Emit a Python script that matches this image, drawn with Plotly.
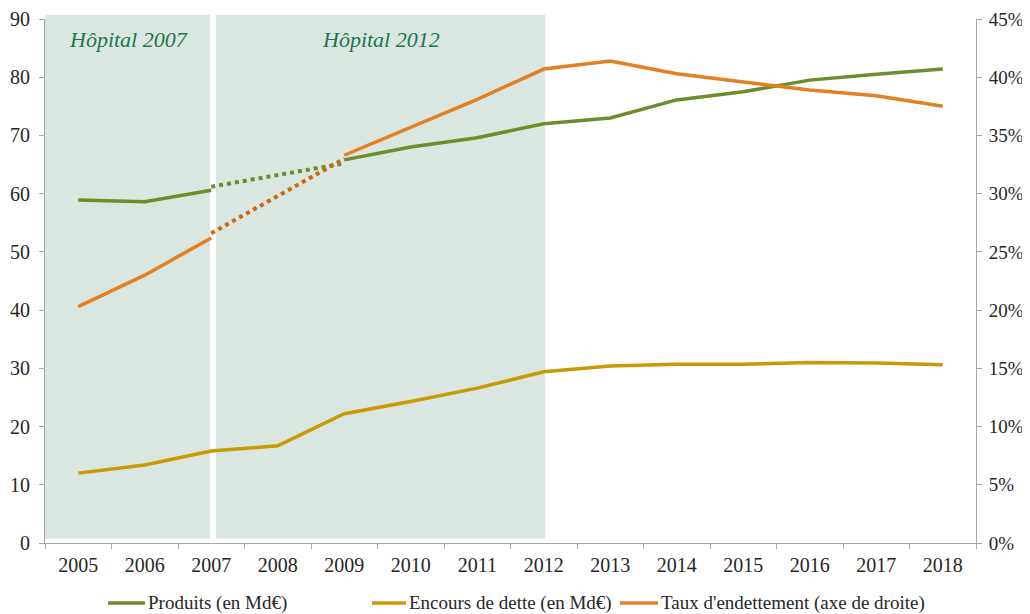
import plotly.graph_objects as go

# Data
years = ['2005', '2006', '2007', '2008', '2009', '2010', '2011',
         '2012', '2013', '2014', '2015', '2016', '2017', '2018']

produits = [58.9, 58.6, 60.6, None, 65.8, 68.0, 69.6,
            72.0, 73.0, 76.1, 77.5, 79.5, 80.5, 81.4]
produits_gap = [None, None, 61.2, 63.2, 65.2, None, None,
                None, None, None, None, None, None, None]

encours = [12.0, 13.4, 15.8, 16.7, 22.2, 24.3, 26.6,
           29.4, 30.4, 30.7, 30.7, 31.0, 30.9, 30.6]

taux = [0.203, 0.230, 0.262, None, 0.333, 0.357, 0.381,
        0.407, 0.414, 0.403, 0.396, 0.389, 0.384, 0.375]
taux_gap = [None, None, 0.266, 0.298, 0.330, None, None,
            None, None, None, None, None, None, None]

periods = ['Hôpital 2007', 'Hôpital 2012']
series_names = ['Produits (en Md€)', 'Encours de dette (en Md€)',
                "Taux d'endettement (axe de droite)"]

GREEN = '#6F8C2C'
GOLD = '#C99A06'
ORANGE = '#E47F22'
ORANGE_DOT = '#D0650F'
FONT = 'Liberation Serif'
colors = [GREEN, GOLD, ORANGE]

fig = go.Figure()

fig.add_trace(go.Scatter(x=years, y=produits, name=series_names[0], mode='lines',
                         line=dict(color=GREEN, width=3.5)))
fig.add_trace(go.Scatter(x=years, y=encours, name=series_names[1], mode='lines',
                         line=dict(color=GOLD, width=3.5)))
fig.add_trace(go.Scatter(x=years, y=taux, name=series_names[2], mode='lines',
                         line=dict(color=ORANGE, width=3.5), yaxis='y2'))
fig.add_trace(go.Scatter(x=years, y=produits_gap, mode='lines', showlegend=False,
                         line=dict(color=GREEN, width=4, dash='dot')))
fig.add_trace(go.Scatter(x=years, y=taux_gap, mode='lines', showlegend=False,
                         line=dict(color=ORANGE_DOT, width=4, dash='dot'), yaxis='y2'))

# shaded periods
fig.add_shape(type='rect', xref='x', yref='paper', x0=-0.5, x1=1.98, y0=0.008, y1=1.008,
              fillcolor='#D9E7E0', line_width=0, layer='below')
fig.add_shape(type='rect', xref='x', yref='paper', x0=2.07, x1=7.02, y0=0.008, y1=1.008,
              fillcolor='#D9E7E0', line_width=0, layer='below')
fig.add_annotation(x=0.75, y=0.96, xref='x', yref='paper', text='<i>' + periods[0] + '</i>',
                   yanchor='middle', showarrow=False,
                   font=dict(family=FONT, size=22, color='#1E7552'))
fig.add_annotation(x=4.55, y=0.96, xref='x', yref='paper', text='<i>' + periods[1] + '</i>',
                   yanchor='middle', showarrow=False,
                   font=dict(family=FONT, size=22, color='#1E7552'))

# legend drawn by hand to reproduce the wide spacing of the original
legend_y = -0.1145
legend_lines = [(0.0677, 0.1074), (0.3512, 0.3878), (0.6176, 0.6584)]
for (x0, x1), name, col in zip(legend_lines, series_names, colors):
    fig.add_shape(type='line', xref='paper', yref='paper', x0=x0, x1=x1,
                  y0=legend_y, y1=legend_y, line=dict(color=col, width=3.5))
    fig.add_annotation(x=x1 + 0.001, y=legend_y, xref='paper', yref='paper', text=name,
                       xanchor='left', yanchor='middle', showarrow=False,
                       font=dict(family=FONT, size=19, color='#262626'))

axis_common = dict(showgrid=False, zeroline=False, showline=True, linecolor='#A6A6A6',
                   linewidth=1, ticks='outside', ticklen=5, tickcolor='#A6A6A6',
                   automargin=False)

# page body adds an 8px offset, so the figure is sized to compensate
fig.update_layout(
    width=1022, height=606,
    margin=dict(l=37, r=54, t=11, b=71),
    paper_bgcolor='white', plot_bgcolor='white',
    font=dict(family=FONT, size=20, color='#262626'),
    xaxis=dict(type='category', tickson='boundaries', range=[-0.5, 13.5],
               ticklabelstandoff=4, **axis_common),
    yaxis=dict(range=[0, 90], dtick=10, ticklabelstandoff=5, **axis_common),
    yaxis2=dict(range=[0, 0.45], dtick=0.05, tickformat='.0%', overlaying='y', side='right',
                ticklabelstandoff=3, tickfont=dict(size=19), **axis_common),
    showlegend=False,
)

fig.write_html('out.html')
